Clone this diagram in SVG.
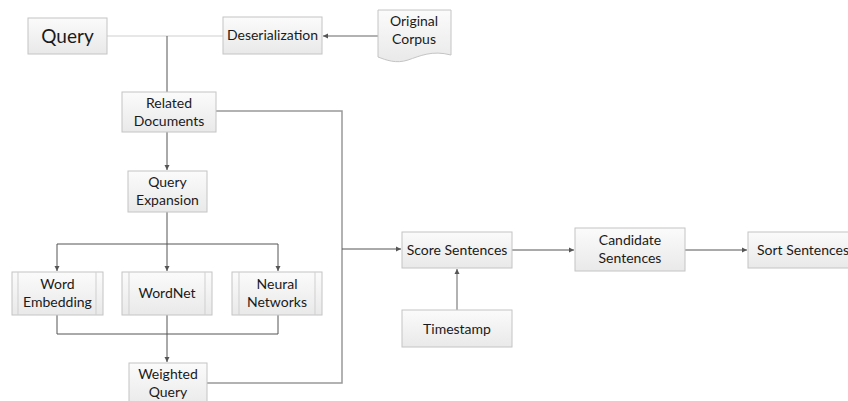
<svg xmlns="http://www.w3.org/2000/svg" width="848" height="401" viewBox="0 0 848 401">
<style>
.box{fill:url(#g);stroke:#c4c4c4;stroke-width:1}
.t{font-family:Lato,"Open Sans",sans-serif;font-size:14px;fill:#1a1a1a;text-anchor:middle}
.ln{fill:none;stroke:#555;stroke-width:1}
.lg{fill:none;stroke:#cfcfcf;stroke-width:1.2}
.lm{fill:none;stroke:#999;stroke-width:1.5}
.in{stroke:#cfcfcf;stroke-width:1}
</style>
<defs>
<linearGradient id="g" x1="0" y1="0" x2="0" y2="1">
<stop offset="0" stop-color="#fbfbfb"/>
<stop offset="1" stop-color="#e9e9e9"/>
</linearGradient>
<marker id="a" markerWidth="6" markerHeight="6" refX="5" refY="3" orient="auto" markerUnits="userSpaceOnUse">
<path d="M0,0.5 L5,3 L0,5.5 Z" fill="#555"/>
</marker>
</defs>
<rect width="848" height="401" fill="#fff"/>
<g id="connectors">
<path class="lg" d="M107,36 H223"/>
<path class="ln" d="M167,36 V99" marker-end="url(#a)"/>
<path class="lm" d="M378,36 H323" marker-end="url(#a)"/>
<path class="lm" d="M216,111 H342 V383 H207"/>
<path class="ln" d="M342,249 H401" marker-end="url(#a)"/>
<path class="ln" d="M167,132 V170" marker-end="url(#a)"/>
<path class="ln" d="M167,212 V271" marker-end="url(#a)"/>
<path class="ln" d="M167,244 H57 V271" marker-end="url(#a)"/>
<path class="ln" d="M167,244 H278 V271" marker-end="url(#a)"/>
<path class="ln" d="M57,315 V334 H278 V315"/>
<path class="ln" d="M167,315 V362" marker-end="url(#a)"/>
<path class="ln" d="M512,250 H574" marker-end="url(#a)"/>
<path class="ln" d="M685,250 H747" marker-end="url(#a)"/>
<path class="lm" d="M457,310 V269" marker-end="url(#a)"/>
</g>
<g id="query"><rect class="box" x="28" y="18" width="79" height="36"/><text class="t" x="67.5" y="43" style="font-size:19px">Query</text></g>
<g id="deserialization"><rect class="box" x="223" y="17" width="99" height="37"/><text class="t" x="272.5" y="40">Deserialization</text></g>
<g id="original-corpus"><path class="box" d="M378,10 H451 V55 C432,50 420,56 408,60 C396,64 386,60 378,57 Z"/><text class="t" x="414" y="26">Original</text><text class="t" x="414" y="44">Corpus</text></g>
<g id="related-documents"><rect class="box" x="122" y="92" width="94" height="40"/><text class="t" x="169" y="108">Related</text><text class="t" x="169" y="126">Documents</text></g>
<g id="query-expansion"><rect class="box" x="128" y="171" width="79" height="41"/><text class="t" x="167.5" y="187">Query</text><text class="t" x="167.5" y="205">Expansion</text></g>
<g id="word-embedding"><rect class="box" x="12" y="272" width="91" height="43"/><line class="in" x1="18" y1="272" x2="18" y2="315"/><line class="in" x1="96" y1="272" x2="96" y2="315"/><text class="t" x="57.5" y="289">Word</text><text class="t" x="57.5" y="307">Embedding</text></g>
<g id="wordnet"><rect class="box" x="122" y="272" width="90" height="43"/><line class="in" x1="129" y1="272" x2="129" y2="315"/><line class="in" x1="205" y1="272" x2="205" y2="315"/><text class="t" x="167" y="298">WordNet</text></g>
<g id="neural-networks"><rect class="box" x="232" y="272" width="90" height="43"/><line class="in" x1="239" y1="272" x2="239" y2="315"/><line class="in" x1="315" y1="272" x2="315" y2="315"/><text class="t" x="277" y="289">Neural</text><text class="t" x="277" y="307">Networks</text></g>
<g id="weighted-query"><rect class="box" x="129" y="363" width="78" height="44"/><text class="t" x="168" y="379">Weighted</text><text class="t" x="168" y="397">Query</text></g>
<g id="score-sentences"><rect class="box" x="402" y="232" width="110" height="36"/><text class="t" x="457" y="255">Score Sentences</text></g>
<g id="timestamp"><rect class="box" x="402" y="310" width="110" height="37"/><text class="t" x="457" y="334">Timestamp</text></g>
<g id="candidate-sentences"><rect class="box" x="575" y="228" width="110" height="43"/><text class="t" x="630" y="245">Candidate</text><text class="t" x="630" y="263">Sentences</text></g>
<g id="sort-sentences"><rect class="box" x="748" y="232" width="110" height="36"/><text class="t" x="757" y="255" style="text-anchor:start">Sort Sentences</text></g>
</svg>
